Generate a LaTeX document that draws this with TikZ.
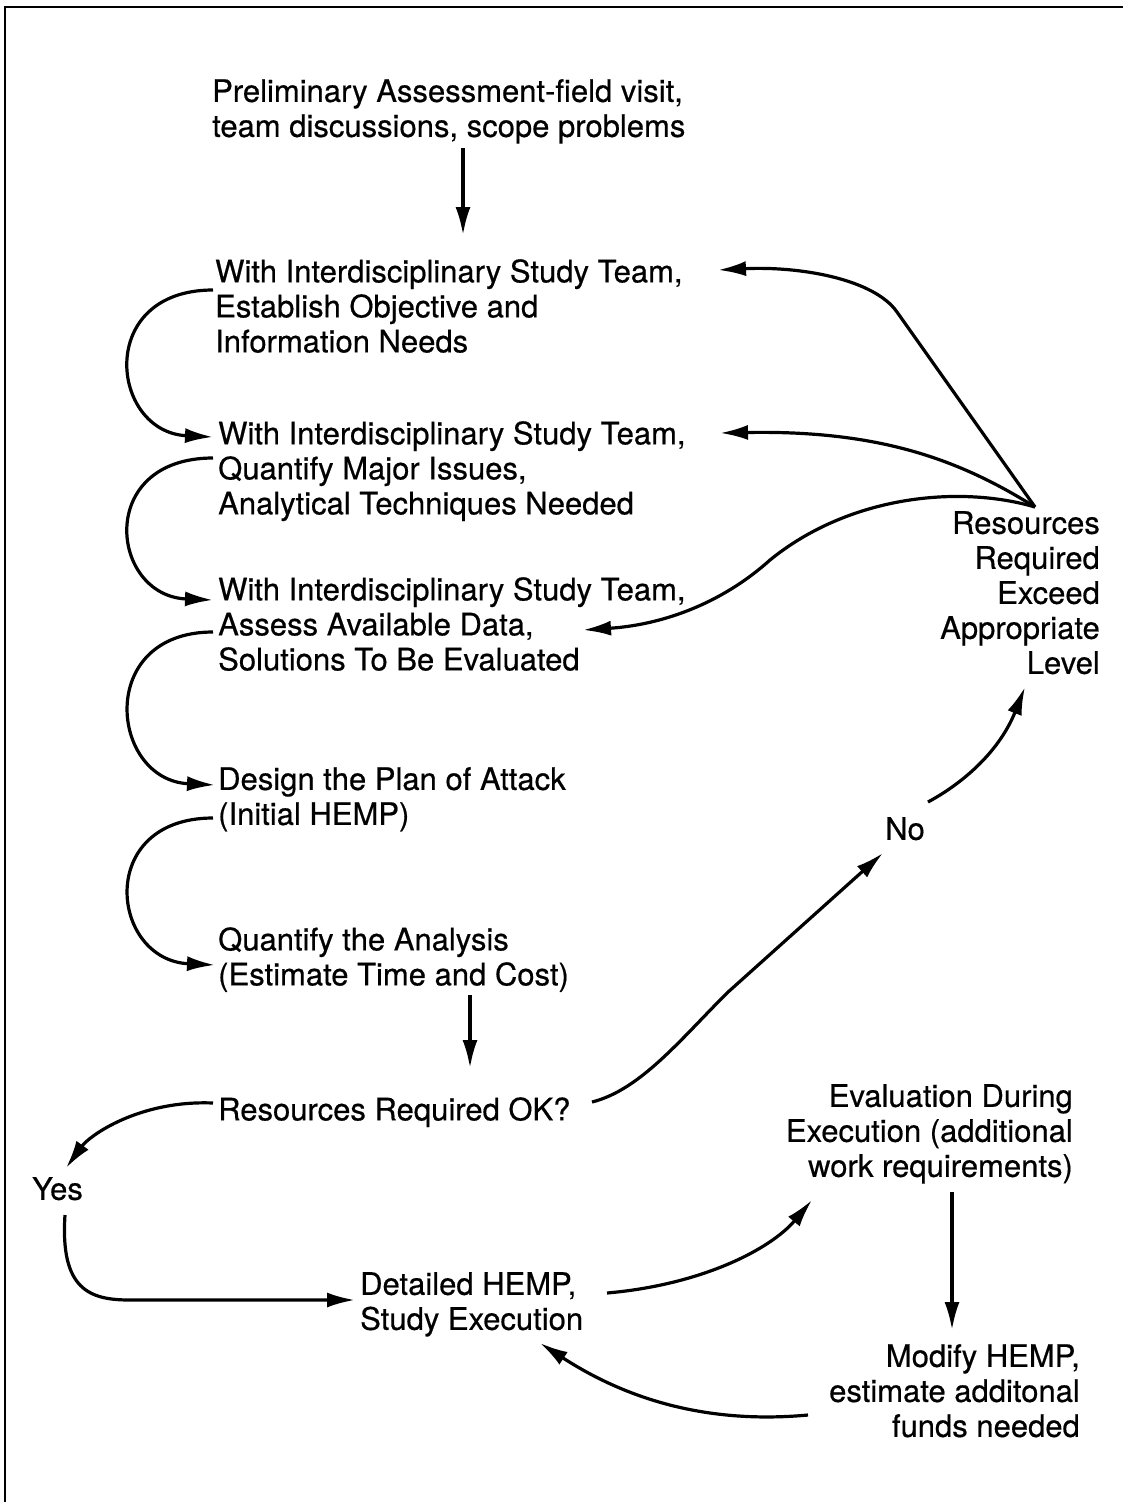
\documentclass[tikz,border=0pt]{standalone}
\usepackage{fontspec}
\setmainfont{TeX Gyre Heros}[FakeBold=0.5]
\usetikzlibrary{arrows.meta}
\begin{document}
\begin{tikzpicture}[x=1pt,y=-1pt,
  txt/.style={inner sep=0pt, font=\fontsize{31}{35}\selectfont, align=left, anchor=north west},
  txtr/.style={txt, align=right, anchor=north east},
  conn/.style={line width=3.2pt, -{Latex[length=28pt,width=15pt]}},
  frame/.style={line width=2.8pt}]
\useasboundingbox (0,0) rectangle (1123,1502);
\draw[frame] (5,1502) -- (5,7) -- (1123,7);

% nodes
\node[txt] (pre) at (212,79) {Preliminary Assessment-field visit,\\team discussions, scope problems};
\node[txt] (obj) at (215,259) {With Interdisciplinary Study Team,\\Establish Objective and\\Information Needs};
\node[txt] (maj) at (218,421) {With Interdisciplinary Study Team,\\Quantify Major Issues,\\Analytical Techniques Needed};
\node[txt] (avail) at (218,577) {With Interdisciplinary Study Team,\\Assess Available Data,\\Solutions To Be Evaluated};
\node[txt] (design) at (218,767) {Design the Plan of Attack\\(Initial HEMP)};
\node[txt] (quant) at (218,927) {Quantify the Analysis\\(Estimate Time and Cost)};
\node[txt] (ok) at (218,1097) {Resources Required OK?};
\node[txt] (yes) at (32,1177) {Yes};
\node[txt] (det) at (360,1272) {Detailed HEMP,\\Study Execution};
\node[txtr] (eval) at (1073,1084) {Evaluation During\\Execution (additional\\work requirements)};
\node[txtr] (mod) at (1080,1344) {Modify HEMP,\\estimate additonal\\funds needed};
\node[txtr] (exc) at (1100,511) {Resources\\Required\\Exceed\\Appropriate\\Level};
\node[txt] (no) at (885,817) {No};

% connector end points
\coordinate (preS) at (463,148);  \coordinate (objN) at (463,235);
\coordinate (objL) at (213,290);  \coordinate (majT) at (213,437);
\coordinate (majL) at (213,458);  \coordinate (avT) at (213,600);
\coordinate (avL) at (213,632);   \coordinate (deT) at (215,785);
\coordinate (deL) at (213,818);   \coordinate (quT) at (215,965);
\coordinate (quS) at (470,995);   \coordinate (okN) at (470,1068);
\coordinate (okL) at (213,1103);  \coordinate (yesN) at (66,1168);
\coordinate (yesS) at (65,1215);  \coordinate (detW) at (355,1300);
\coordinate (okR) at (592,1102);  \coordinate (noS) at (883,853);
\coordinate (noR) at (928,802);   \coordinate (excS) at (1025,687);
\coordinate (excN) at (1035,507);
\coordinate (objR) at (718,270);  \coordinate (majR) at (720,433);
\coordinate (avR) at (583,630);
\coordinate (detR) at (607,1293); \coordinate (evalW) at (812,1200);
\coordinate (evalS) at (952,1192);\coordinate (modN) at (952,1330);
\coordinate (modW) at (808,1415); \coordinate (detS) at (540,1343);

% connectors
\draw[conn] (preS) -- (objN);
\draw[conn] (objL) .. controls (95,290) and (110,432) .. (majT);
\draw[conn] (majL) .. controls (95,458) and (110,596) .. (avT);
\draw[conn] (avL) .. controls (95,632) and (110,780) .. (deT);
\draw[conn] (deL) .. controls (95,818) and (110,960) .. (quT);
\draw[conn] (quS) -- (okN);
\draw[conn] (okL) .. controls (140,1100) and (90,1135) .. (yesN);
\draw[conn] (yesS) .. controls (60,1290) and (90,1300) .. (130,1300) -- (detW);
\draw[conn] (okR) .. controls (640,1090) and (680,1040) .. (727,993) -- (noS);
\draw[conn] (noR) .. controls (965,782) and (1000,750) .. (excS);
\draw[conn] (excN) -- (897,312) .. controls (874,279) and (800,266) .. (objR);
\draw[conn] (excN) .. controls (960,460) and (880,430) .. (majR);
\draw[conn] (excN) .. controls (960,485) and (850,495) .. (770,560) .. controls (720,605) and (660,625) .. (avR);
\draw[conn] (detR) .. controls (700,1285) and (770,1250) .. (evalW);
\draw[conn] (evalS) -- (modN);
\draw[conn] (modW) .. controls (700,1425) and (620,1395) .. (detS);
\end{tikzpicture}
\end{document}
